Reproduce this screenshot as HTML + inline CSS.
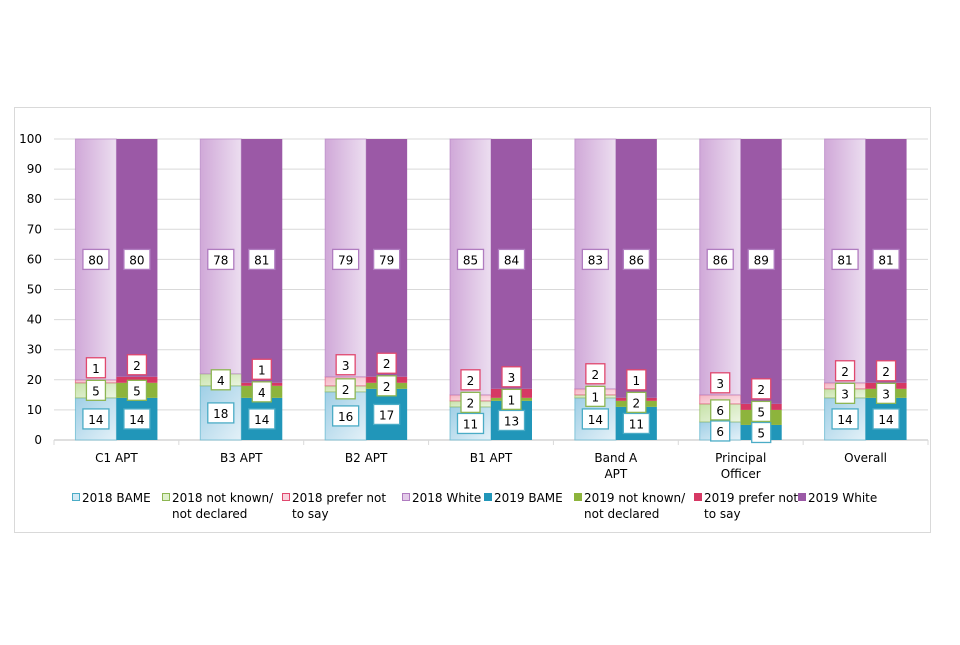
<!DOCTYPE html>
<html><head><meta charset="utf-8"><style>
body{margin:0;background:#fff;font-family:"Liberation Sans",Verdana,sans-serif}
svg text{font-family:"DejaVu Sans","Liberation Sans",sans-serif;font-size:12px;fill:#000}
</style></head><body>
<svg id="chart" width="960" height="640" xmlns="http://www.w3.org/2000/svg">
<defs>
<linearGradient id="gBame" x1="0" y1="0" x2="1" y2="1"><stop offset="0" stop-color="#9fcfe6"/><stop offset="1" stop-color="#e4f1f8"/></linearGradient>
<linearGradient id="gNk" x1="0" y1="0" x2="1" y2="1"><stop offset="0" stop-color="#c6e2a8"/><stop offset="1" stop-color="#ecf5e2"/></linearGradient>
<linearGradient id="gPr" x1="0" y1="0" x2="1" y2="1"><stop offset="0" stop-color="#f4b4c3"/><stop offset="1" stop-color="#fbe3e9"/></linearGradient>
<linearGradient id="gWh" x1="0" y1="0" x2="1" y2="0"><stop offset="0" stop-color="#d0a8d8"/><stop offset="1" stop-color="#ecdef0"/></linearGradient>
</defs>
<rect x="14.5" y="107.5" width="916" height="425" fill="#fff" stroke="#d9d9d9"/>
<g id="grid"></g><g id="bars"></g><g id="labels"></g><g id="legend"></g>
</svg>
<script>
const categories=["C1 APT","B3 APT","B2 APT","B1 APT","Band A|APT","Principal|Officer","Overall"];
const bame2018=[14,18,16,11,14,6,14];
const notKnown2018=[5,4,2,2,1,6,3];
const prefer2018=[1,0,3,2,2,3,2];
const white2018=[80,78,79,85,83,86,81];
const bame2019=[14,14,17,13,11,5,14];
const notKnown2019=[5,4,2,1,2,5,3];
const prefer2019=[2,1,2,3,1,2,2];
const white2019=[80,81,79,84,86,89,81];
const yTicks=[0,10,20,30,40,50,60,70,80,90,100];
const legendLabels=["2018 BAME","2018 not known/|not declared","2018 prefer not|to say","2018 White","2019 BAME","2019 not known/|not declared","2019 prefer not|to say","2019 White"];

const NS="http://www.w3.org/2000/svg";
const x0=54,x1=928,y0=440,y100=139;
const yS=v=>y0-(v/100)*(y0-y100);
const bandW=(x1-x0)/categories.length;
const xC=i=>x0+bandW*(i+0.5);
const barW=41;
function mk(t,a,p){const e=document.createElementNS(NS,t);for(const k in a)e.setAttribute(k,a[k]);p.appendChild(e);return e;}
const grid=document.getElementById('grid');
yTicks.forEach(v=>{
 const l=mk('line',{x1:x0,x2:x1,y1:yS(v),y2:yS(v),stroke:v===0?'#bfbfbf':'#d9d9d9'},grid);
 
 
 const t=mk('text',{x:42,y:yS(v)+4,'text-anchor':'end'},grid);t.textContent=v;
 
 
});
for(let i=0;i<=categories.length;i++){
 const x=x0+bandW*i;
 const l=mk('line',{x1:x,x2:x,y1:y0,y2:y0+5,stroke:'#d9d9d9'},grid);
 
 
}
categories.forEach((c,i)=>{
 c.split('|').forEach((ln,k)=>{
  const t=mk('text',{x:xC(i),y:462+k*16,'text-anchor':'middle'},grid);t.textContent=ln;
  
  
 });
});
const s2018=[{d:bame2018,f:'url(#gBame)',s:'#4bacc6',n:'bame-2018'},{d:notKnown2018,f:'url(#gNk)',s:'#8db653',n:'not-known-2018'},{d:prefer2018,f:'url(#gPr)',s:'#e0486e',n:'prefer-2018'},{d:white2018,f:'url(#gWh)',s:'#b07cc0',n:'white-2018'}];
const s2019=[{d:bame2019,f:'#2196b9',s:'#4bacc6',n:'bame-2019'},{d:notKnown2019,f:'#8db43c',s:'#8db653',n:'not-known-2019'},{d:prefer2019,f:'#d63864',s:'#e0486e',n:'prefer-2019'},{d:white2019,f:'#9b59a6',s:'#b07cc0',n:'white-2019'}];
const bars=document.getElementById('bars'),labels=document.getElementById('labels');
function label(x,v,yv,stroke){
 const w=String(v).length>1?26:19;
 const r=mk('rect',{x:x-w/2,y:yS(yv)-10,width:w,height:20,fill:'#fff',stroke:stroke,'stroke-width':1.3},labels);
 
 
 const t=mk('text',{x:x,y:yS(yv)+5,'text-anchor':'middle','font-size':'13'},labels);t.textContent=v;
 
 
}
categories.forEach((c,i)=>{
 [[s2018,xC(i)-barW,true],[s2019,xC(i),false]].forEach(([ser,bx,light])=>{
  let acc=0;const pos=[];
  ser.forEach(s=>{
   const v=s.d[i];const top=Math.min(100,acc+v);
   const a={x:bx,y:yS(top),width:barW,height:yS(acc)-yS(top),fill:s.f};
   if(light&&v>0){a.stroke=s.s;a['stroke-width']=1;a['stroke-opacity']=0.6;}
   const r=mk('rect',a,bars);
   
   
   pos.push([acc,top]);acc=top;
  });
  const cx=bx+barW/2;
  let bl=ser[0].d[i]/2; label(cx,ser[0].d[i],bl,ser[0].s);
  let nl=Math.max((pos[1][0]+pos[1][1])/2,bl+7); label(cx,ser[1].d[i],nl,ser[1].s);
  if(ser[2].d[i]>0){let pl=Math.max(pos[2][1]+4,nl+7.5);label(cx,ser[2].d[i],pl,ser[2].s);}
  label(cx,ser[3].d[i],60,ser[3].s);
 });
});
const leg=document.getElementById('legend');
const legX=[72,162,282,402,484,574,694,798];
const legSw=['#d4eaf5','#dff0cc','#f9d4dd','#e3cbe9','#2196b9','#8db43c','#d63864','#9b59a6'];
const legSt=['#4bacc6','#8db653','#e0486e','#b07cc0','#2196b9','#8db43c','#d63864','#9b59a6'];
legendLabels.forEach((l,i)=>{
 const g=mk('g',{},leg);
 
 
 mk('rect',{x:legX[i]+0.5,y:493.5,width:7,height:7,fill:legSw[i],stroke:legSt[i]},g);
 l.split('|').forEach((ln,k)=>{
  const t=mk('text',{x:legX[i]+10,y:502+k*16},g);t.textContent=ln;
 });
});
</script>
</body></html>
